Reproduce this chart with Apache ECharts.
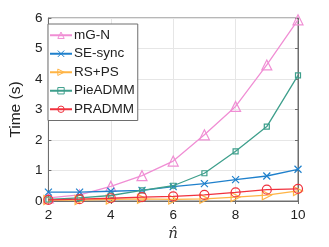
<!DOCTYPE html>
<html><head><meta charset="utf-8">
<script src="https://cdn.jsdelivr.net/npm/echarts@6/dist/echarts.min.js"></script>
<style>html,body{margin:0;padding:0;background:#fff}#c{width:329px;height:247px}</style>
</head><body><div id="c"></div>
<script>
var xs = [2,3,4,5,6,7,8,9,10];
var names = ['mG-N','SE-sync','RS+PS','PieADMM','PRADMM'];
var mgn = [0.10,0.20,0.48,0.83,1.31,2.17,3.10,4.46,5.94];
var sesync = [0.29,0.29,0.32,0.35,0.47,0.57,0.70,0.82,1.04];
var rsps = [0.03,0.03,0.05,0.07,0.05,0.07,0.13,0.19,0.33];
var pieadmm = [0.05,0.10,0.18,0.35,0.50,0.91,1.63,2.44,4.12];
var pradmm = [0.04,0.06,0.09,0.13,0.15,0.20,0.28,0.37,0.40];
var xTicks = [2,4,6,8,10];
var yTicks = [0,1,2,3,4,5,6];

var colors = ['#f08ed4','#1f80cc','#ffb445','#3e9f8c','#f0323e'];
var cross = 'path://M0,0L10,10M10,0L0,10';
var symbols = ['triangle', cross, 'path://M0,0L10,5L0,10Z', 'rect', 'circle'];
var sizes = [10, 7, 9, 5, 9];
var dataArr = [mgn, sesync, rsps, pieadmm, pradmm];

function pairs(v){ return xs.map(function(x,i){return [x,v[i]];}); }

var series = names.map(function(n,i){
  return {
    name:n, type:'line', data:pairs(dataArr[i]), symbol:symbols[i], symbolSize:sizes[i],
    showSymbol:true, z: 2+i,
    lineStyle:{color:colors[i], width:1.3},
    itemStyle:{color: (i===1)? colors[i] : 'rgba(255,255,255,0)', borderColor:colors[i], borderWidth:1.2},
    emphasis:{disabled:true}, animation:false
  };
});
var legendSizes = [8, 6, 8, 5, 8];
var legendData = names.map(function(n,i){
  return {name:n, itemStyle:{borderWidth:1}};
});
var font = 'Liberation Sans, Arial, Helvetica, sans-serif';
var chart = echarts.init(document.getElementById('c'), null, {renderer:'canvas'});
chart.setOption({
  animation:false,
  backgroundColor:'#fff',
  grid:{left:42, right:31, top:18, bottom:43, show:true, borderColor:'#6e6e6e', borderWidth:1},
  legend:{
    orient:'vertical', left:48, top:24, data:legendData,
    backgroundColor:'#fff', borderColor:'#6e6e6e', borderWidth:1,
    padding:[4,3,4,1], itemGap:4, itemWidth:22, itemHeight:8,
    textStyle:{fontFamily:font, fontSize:13.5, color:'#222', padding:[0,0,0,-3], lineHeight:14.5},
    inactiveColor:'#ccc', selectedMode:false
  },
  xAxis:[{
    type:'value', min:2, max:10, interval:2,
    name:'n\u0302', nameLocation:'middle', nameGap:26,
    nameTextStyle:{fontFamily:'DejaVu Serif, Liberation Serif, serif', fontStyle:'italic', fontSize:15, color:'#333'},
    axisLine:{show:true, lineStyle:{color:'#6e6e6e'}},
    axisTick:{show:true, inside:true, length:3, lineStyle:{color:'#6e6e6e'}},
    axisLabel:{fontFamily:font, fontSize:13.5, color:'#222', margin:7},
    splitLine:{show:true, lineStyle:{color:'#e6e6e6'}}
  },{
    type:'value', min:2, max:10, interval:2, position:'top',
    axisLine:{show:true, lineStyle:{color:'#6e6e6e'}},
    axisTick:{show:true, inside:true, length:3, lineStyle:{color:'#6e6e6e'}},
    axisLabel:{show:false}, splitLine:{show:false}
  }],
  yAxis:[{
    type:'value', min:0, max:6, interval:1,
    name:'Time (s)', nameLocation:'middle', nameGap:19,
    nameTextStyle:{fontFamily:font, fontSize:15.5, color:'#222'},
    axisLine:{show:true, lineStyle:{color:'#6e6e6e'}},
    axisTick:{show:true, inside:true, length:3, lineStyle:{color:'#6e6e6e'}},
    axisLabel:{fontFamily:font, fontSize:13.5, color:'#222', margin:6},
    splitLine:{show:true, lineStyle:{color:'#e6e6e6'}}
  },{
    type:'value', min:0, max:6, interval:1, position:'right',
    axisLine:{show:true, lineStyle:{color:'#6e6e6e'}},
    axisTick:{show:true, inside:true, length:3, lineStyle:{color:'#6e6e6e'}},
    axisLabel:{show:false}, splitLine:{show:false}
  }],
  series: series
});
</script></body></html>
